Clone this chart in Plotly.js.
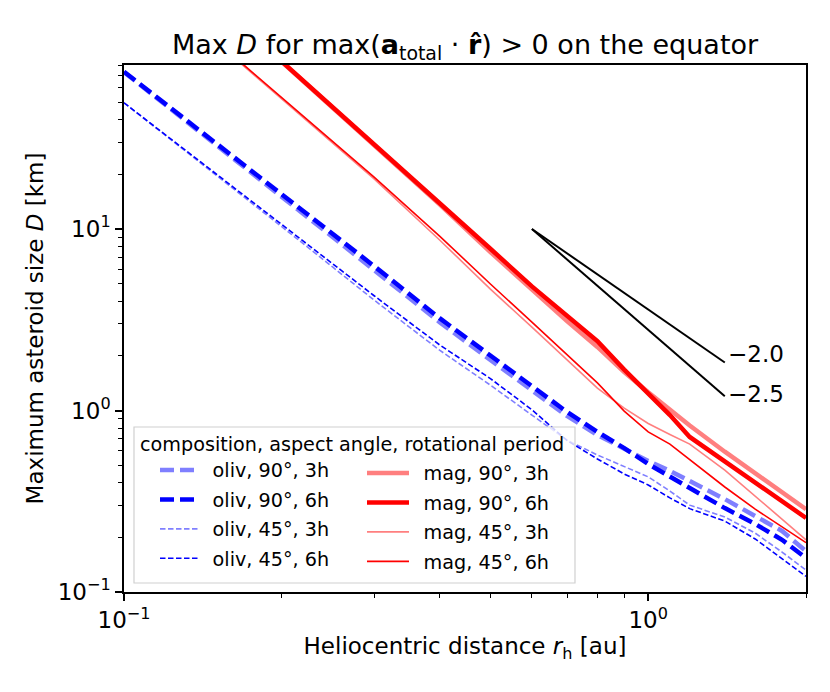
<!DOCTYPE html>
<html>
<head>
<meta charset="utf-8">
<script src="https://cdn.plot.ly/plotly-3.0.1.min.js"></script>
<style>
  html, body { margin: 0; padding: 0; background: #fff; }
  #max-d-plot { width: 830px; height: 692px; }
</style>
</head>
<body>
<div id="max-d-plot"></div>
<script>
// heliocentric distances [au] used for each group of curves
var rOliv  = [0.1, 0.125, 0.15, 0.2, 0.25, 0.3, 0.4, 0.5, 0.6, 0.7, 0.8, 0.9, 1.0, 1.1, 1.2, 1.4, 1.6, 1.8, 2.0];
var rMag90 = [0.2, 0.25, 0.3, 0.4, 0.5, 0.6, 0.7, 0.8, 0.9, 1.0, 1.1, 1.2, 1.4, 1.6, 1.8, 2.0];
var rMag45 = [0.16, 0.2, 0.25, 0.3, 0.4, 0.5, 0.6, 0.7, 0.8, 0.9, 1.0, 1.1, 1.2, 1.4, 1.6, 1.8, 2.0];

// maximum asteroid size D [km]
var oliv90_3h = [73.3, 44.1, 29.4, 15.2, 9.04, 5.94, 3.07, 1.90, 1.28, 0.933, 0.733, 0.614, 0.527, 0.465, 0.409, 0.325, 0.262, 0.217, 0.168];
var oliv90_6h = [73.6, 44.7, 29.8, 15.6, 9.38, 6.25, 3.23, 2.00, 1.35, 0.982, 0.763, 0.621, 0.507, 0.436, 0.374, 0.290, 0.237, 0.194, 0.154];
var oliv45_3h = [49.6, 30.0, 19.9, 10.3, 6.18, 4.06, 2.15, 1.38, 0.944, 0.687, 0.569, 0.494, 0.431, 0.360, 0.301, 0.259, 0.211, 0.166, 0.132];
var oliv45_6h = [49.6, 30.2, 20.1, 10.6, 6.43, 4.29, 2.30, 1.50, 1.01, 0.684, 0.541, 0.447, 0.389, 0.330, 0.288, 0.246, 0.196, 0.153, 0.122];

var mag90_3h = [83.4, 46.6, 28.9, 13.7, 7.47, 4.61, 3.11, 2.24, 1.63, 1.26, 1.01, 0.826, 0.593, 0.453, 0.356, 0.286];
var mag90_6h = [83.8, 47.0, 29.2, 14.1, 7.79, 4.83, 3.32, 2.41, 1.68, 1.24, 0.944, 0.715, 0.527, 0.404, 0.317, 0.256];
var mag45_3h = [91.0, 52.0, 29.8, 18.9, 8.70, 4.67, 2.88, 1.90, 1.33, 1.03, 0.848, 0.738, 0.653, 0.470, 0.338, 0.252, 0.194];
var mag45_6h = [92.3, 53.0, 30.4, 19.3, 9.15, 4.98, 3.07, 2.02, 1.42, 0.993, 0.762, 0.653, 0.537, 0.379, 0.286, 0.229, 0.187];

// reference power-law slopes
var slopeR   = [0.6, 1.4];
var slope20  = [10, 1.84];
var slope25  = [10, 1.20];
var slopeLabels = ['\u22122.0', '\u22122.5'];
var slopeLabelShift = [8, 2];

// tick labels
var xTickVals = [0.1, 1];
var xTickText = ['10<sup>\u22121</sup>', '10<sup>0</sup>'];
var yTickVals = [0.1, 1, 10];
var yTickText = ['10<sup>\u22121</sup>', '10<sup>0</sup>', '10<sup>1</sup>'];
var xMinor = [0.2, 0.3, 0.4, 0.5, 0.6, 0.7, 0.8, 0.9, 2];
var yMinor = [0.2, 0.3, 0.4, 0.5, 0.6, 0.7, 0.8, 0.9, 2, 3, 4, 5, 6, 7, 8, 9, 20, 30, 40, 50, 60, 70, 80];

var legendTitle = 'composition, aspect angle, rotational period';

var BLUE = 'rgb(0,0,255)', BLUE_A = 'rgba(0,0,255,0.5)';
var RED = 'rgb(255,0,0)', RED_A = 'rgba(255,0,0,0.5)';
var FONT = 'DejaVu Sans, Liberation Sans, sans-serif';
var SP = '\u2002';   // en space between legend line and label

function curve(x, y, name, color, width, dash, legend) {
    return {
      x: x,
      y: y,
      type: 'scatter',
      mode: 'lines',
      name: SP + name,
      legend: legend,
      legendgroup: name,
      line: { color: color, width: width, dash: dash }
    };
}

var data = [
    curve(rOliv, oliv90_3h, 'oliv, 90\u00b0, 3h', BLUE_A, 4.5, '14px,6px', 'legend'),
    curve(rOliv, oliv90_6h, 'oliv, 90\u00b0, 6h', BLUE, 4.5, '14px,6px', 'legend'),
    curve(rOliv, oliv45_3h, 'oliv, 45\u00b0, 3h', BLUE_A, 1.6, '5.5px,2.5px', 'legend'),
    curve(rOliv, oliv45_6h, 'oliv, 45\u00b0, 6h', BLUE, 1.6, '5.5px,2.5px', 'legend'),
    curve(rMag90, mag90_3h, 'mag, 90\u00b0, 3h', RED_A, 4.5, 'solid', 'legend2'),
    curve(rMag90, mag90_6h, 'mag, 90\u00b0, 6h', RED, 4.5, 'solid', 'legend2'),
    curve(rMag45, mag45_3h, 'mag, 45\u00b0, 3h', RED_A, 1.6, 'solid', 'legend2'),
    curve(rMag45, mag45_6h, 'mag, 45\u00b0, 6h', RED, 1.6, 'solid', 'legend2'),
    { x: slopeR, y: slope20, type: 'scatter', mode: 'lines', showlegend: false,
      line: { color: 'black', width: 2 } },
    { x: slopeR, y: slope25, type: 'scatter', mode: 'lines', showlegend: false,
      line: { color: 'black', width: 2 } }
];

var axisStyle = {
    type: 'log',
    showgrid: false,
    zeroline: false,
    showline: true,
    linecolor: 'black',
    linewidth: 1.5,
    mirror: true,
    ticks: 'outside',
    ticklen: 7,
    tickwidth: 1.5,
    tickcolor: 'black',
    tickmode: 'array',
    tickfont: { family: FONT, size: 23, color: 'black' }
};

var minorStyle = { tickmode: 'array', ticks: 'outside', ticklen: 4, tickwidth: 1.2, tickcolor: 'black', showgrid: false };

var legendStyle = {
    xanchor: 'left', yanchor: 'top',
    bgcolor: 'rgba(0,0,0,0)', borderwidth: 0,
    indentation: 17,
    traceorder: 'grouped',
    tracegroupgap: 1.5,
    font: { family: FONT, size: 19.2, color: 'black' }
};

var layout = {
    width: 830,
    height: 692,
    paper_bgcolor: 'white',
    plot_bgcolor: 'white',
    font: { family: FONT, size: 20, color: 'black' },
    margin: { l: 124, r: 24, t: 65, b: 100 },
    title: {
        text: 'Max <i>D</i> for max(<b>a</b><sub>total</sub> \u00b7 <b>r\u0302</b>) &gt; 0 on the equator',
        font: { family: FONT, size: 27, color: 'black' },
        x: 0.5, xref: 'paper',
        y: 1 - 45 / 692, yanchor: 'middle'
    },
    xaxis: Object.assign({}, axisStyle, {
        range: [-1, Math.log10(2)],
        tickvals: xTickVals,
        ticktext: xTickText,
        minor: Object.assign({ tickvals: xMinor }, minorStyle),
        title: { text: 'Heliocentric distance <i>r</i><sub>h</sub> [au]', font: { family: FONT, size: 23 }, standoff: 6 }
    }),
    yaxis: Object.assign({}, axisStyle, {
        range: [-1, 1.904],
        tickvals: yTickVals,
        ticktext: yTickText,
        minor: Object.assign({ tickvals: yMinor }, minorStyle),
        title: { text: 'Maximum asteroid size <i>D</i> [km]', font: { family: FONT, size: 23 }, standoff: 8 }
    }),
    legend: Object.assign({}, legendStyle, {
        x: (138 - 124) / 682, y: (592 - 426) / 527,
        itemwidth: 38,
        title: { text: legendTitle, side: 'top', font: { family: FONT, size: 19.2, color: 'black' } }
    }),
    legend2: Object.assign({}, legendStyle, {
        x: (345 - 124) / 682, y: (592 - 454) / 527,
        itemwidth: 42
    }),
    // legend frame drawn round both legend columns
    shapes: [{
        type: 'rect', xref: 'paper', yref: 'paper', layer: 'above',
        x0: (134 - 124) / 682, x1: (575 - 124) / 682,
        y0: (592 - 583) / 527, y1: (592 - 427) / 527,
        line: { color: '#d0d0d0', width: 1.2 },
        fillcolor: 'rgba(255,255,255,0.8)'
    }],
    annotations: slopeLabels.map(function (t, i) {
        return {
            x: Math.log10(slopeR[1]),
            y: Math.log10([slope20, slope25][i][1]),
            xref: 'x', yref: 'y',
            text: t, showarrow: false,
            xanchor: 'left', yanchor: 'middle',
            xshift: 1, yshift: slopeLabelShift[i],
            font: { family: FONT, size: 23, color: 'black' }
        };
    })
};

var additional_param = {
    displayModeBar: false,
    responsive: false
};

Plotly.newPlot('max-d-plot', data, layout, additional_param);
</script>
</body>
</html>
